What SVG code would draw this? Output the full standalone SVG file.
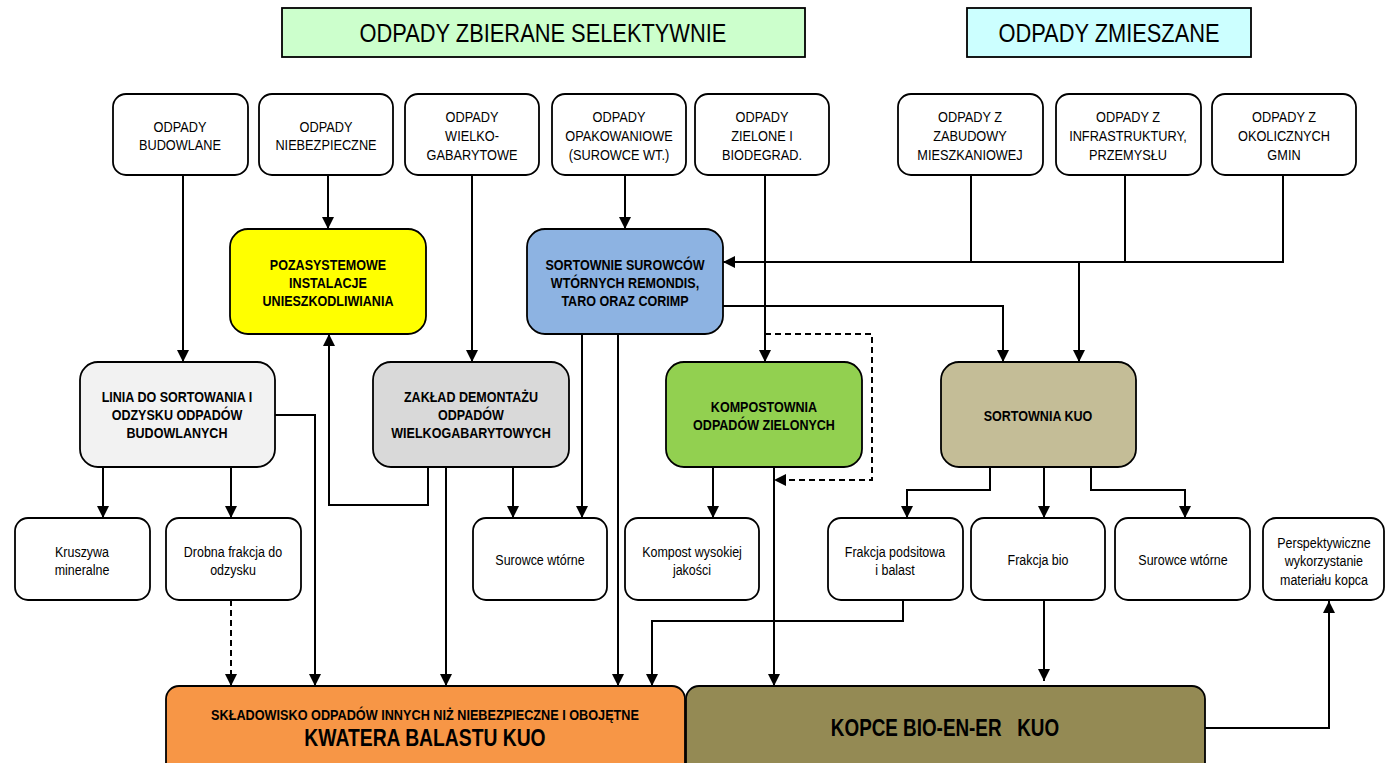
<svg xmlns="http://www.w3.org/2000/svg" width="1385" height="763" viewBox="0 0 1385 763">
<style>
text{font-family:"Liberation Sans",Arial,sans-serif;text-anchor:middle;fill:#000;transform-box:fill-box;transform-origin:center}
.n rect{stroke:#000;stroke-width:1.8}
.t{font-size:15px;transform:scaleX(0.85)}
.s{font-size:14px;transform:scaleX(0.89)}
.b{font-size:14.5px;font-weight:bold;transform:scaleX(0.865)}
.h{font-size:26px;transform:scaleX(0.84)}
.k1{font-size:14.5px;font-weight:bold;transform:scaleX(0.875)}
.k2{font-size:23px;font-weight:bold;transform:scaleX(0.84)}
.k3{font-size:23px;font-weight:bold;transform:scaleX(0.82)}
.c path{fill:none;stroke:#000;stroke-width:2}
.c .d{stroke-dasharray:6 4}
</style>
<defs>
<marker id="a" viewBox="0 0 10 10" refX="10" refY="5" markerWidth="6" markerHeight="6" markerUnits="strokeWidth" orient="auto">
<path d="M0,0L10,5L0,10z" fill="#000"/>
</marker>
</defs>
<rect width="1385" height="763" fill="#fff"/>
<g id="h1" class="n"><rect x="282" y="8" width="523" height="49" fill="#ccffcc" stroke-width="1.2"/><text class="h" x="543" y="42">ODPADY ZBIERANE SELEKTYWNIE</text></g>
<g id="h2" class="n"><rect x="967" y="8" width="284" height="49" fill="#ccffff" stroke-width="1.2"/><text class="h" x="1109" y="42">ODPADY ZMIESZANE</text></g>

<g class="c" id="connectors">
<path d="M183,175V362" marker-end="url(#a)"/>
<path d="M328,175V229" marker-end="url(#a)"/>
<path d="M472,175V362" marker-end="url(#a)"/>
<path d="M625,175V229" marker-end="url(#a)"/>
<path d="M765,175V362" marker-end="url(#a)"/>
<path d="M971,175V262"/>
<path d="M1125,175V262"/>
<path d="M1283,175V262H723" marker-end="url(#a)"/>
<path d="M1079,262V362" marker-end="url(#a)"/>
<path d="M723,306H1003V362" marker-end="url(#a)"/>
<path class="d" d="M765,334H872V480H774" marker-end="url(#a)"/>
<path d="M582,334V518" marker-end="url(#a)"/>
<path d="M618,334V686" marker-end="url(#a)"/>
<path d="M428,467V505H329V334" marker-end="url(#a)"/>
<path d="M446,467V686" marker-end="url(#a)"/>
<path d="M513,467V518" marker-end="url(#a)"/>
<path d="M275,415H315V686" marker-end="url(#a)"/>
<path d="M103,467V518" marker-end="url(#a)"/>
<path d="M231,467V518" marker-end="url(#a)"/>
<path class="d" d="M231,600V686" marker-end="url(#a)"/>
<path d="M713,467V518" marker-end="url(#a)"/>
<path d="M774,467V686" marker-end="url(#a)"/>
<path d="M990,467V490H907V518" marker-end="url(#a)"/>
<path d="M1044,467V518" marker-end="url(#a)"/>
<path d="M1091,467V490H1185V518" marker-end="url(#a)"/>
<path d="M903,600V621H652V686" marker-end="url(#a)"/>
<path d="M1044,600V681" marker-end="url(#a)"/>
<path d="M1205,728H1329V601" marker-end="url(#a)"/>
</g>

<g id="n1" class="n"><rect x="113" y="94" width="135" height="81" rx="13" fill="#fff"/><text class="t" x="180" y="132">ODPADY</text><text class="t" x="180" y="150">BUDOWLANE</text></g>
<g id="n2" class="n"><rect x="259" y="94" width="134" height="81" rx="13" fill="#fff"/><text class="t" x="326" y="132">ODPADY</text><text class="t" x="326" y="150">NIEBEZPIECZNE</text></g>
<g id="n3" class="n"><rect x="405" y="94" width="134" height="81" rx="13" fill="#fff"/><text class="t" x="472" y="122">ODPADY</text><text class="t" x="472" y="141">WIELKO-</text><text class="t" x="472" y="160">GABARYTOWE</text></g>
<g id="n4" class="n"><rect x="552" y="94" width="134" height="81" rx="13" fill="#fff"/><text class="t" x="619" y="122">ODPADY</text><text class="t" x="619" y="141">OPAKOWANIOWE</text><text class="t" x="619" y="160">(SUROWCE WT.)</text></g>
<g id="n5" class="n"><rect x="695" y="94" width="134" height="81" rx="13" fill="#fff"/><text class="t" x="762" y="122">ODPADY</text><text class="t" x="762" y="141">ZIELONE I</text><text class="t" x="762" y="160">BIODEGRAD.</text></g>
<g id="n6" class="n"><rect x="898" y="94" width="145" height="81" rx="13" fill="#fff"/><text class="t" x="970" y="122">ODPADY Z</text><text class="t" x="970" y="141">ZABUDOWY</text><text class="t" x="970" y="160">MIESZKANIOWEJ</text></g>
<g id="n7" class="n"><rect x="1056" y="94" width="145" height="81" rx="13" fill="#fff"/><text class="t" x="1128" y="122">ODPADY Z</text><text class="t" x="1128" y="141">INFRASTRUKTURY,</text><text class="t" x="1128" y="160">PRZEMYSŁU</text></g>
<g id="n8" class="n"><rect x="1212" y="94" width="144" height="81" rx="13" fill="#fff"/><text class="t" x="1284" y="122">ODPADY Z</text><text class="t" x="1284" y="141">OKOLICZNYCH</text><text class="t" x="1284" y="160">GMIN</text></g>

<g id="m1" class="n"><rect x="230" y="229" width="196" height="105" rx="18" fill="#ffff00"/><text class="b" x="328" y="270">POZASYSTEMOWE</text><text class="b" x="328" y="288">INSTALACJE</text><text class="b" x="328" y="306">UNIESZKODLIWIANIA</text></g>
<g id="m2" class="n"><rect x="527" y="229" width="196" height="105" rx="18" fill="#8db3e2"/><text class="b" x="625" y="270">SORTOWNIE SUROWCÓW</text><text class="b" x="625" y="288">WTÓRNYCH REMONDIS,</text><text class="b" x="625" y="306">TARO ORAZ CORIMP</text></g>
<g id="m3" class="n"><rect x="80" y="362" width="195" height="105" rx="18" fill="#f2f2f2"/><text class="b" x="177" y="402">LINIA DO SORTOWANIA I</text><text class="b" x="177" y="420">ODZYSKU ODPADÓW</text><text class="b" x="177" y="438">BUDOWLANYCH</text></g>
<g id="m4" class="n"><rect x="373" y="362" width="196" height="105" rx="18" fill="#d9d9d9"/><text class="b" x="471" y="402">ZAKŁAD DEMONTAŻU</text><text class="b" x="471" y="420">ODPADÓW</text><text class="b" x="471" y="438">WIELKOGABARYTOWYCH</text></g>
<g id="m5" class="n"><rect x="666" y="362" width="196" height="105" rx="18" fill="#92d050"/><text class="b" x="764" y="412">KOMPOSTOWNIA</text><text class="b" x="764" y="430">ODPADÓW ZIELONYCH</text></g>
<g id="m6" class="n"><rect x="941" y="362" width="195" height="105" rx="18" fill="#c4bd97"/><text class="b" x="1038" y="421">SORTOWNIA KUO</text></g>

<g id="s1" class="n"><rect x="15" y="518" width="135" height="82" rx="13" fill="#fff"/><text class="s" x="82" y="557">Kruszywa</text><text class="s" x="82" y="575">mineralne</text></g>
<g id="s2" class="n"><rect x="166" y="518" width="135" height="82" rx="13" fill="#fff"/><text class="s" x="233" y="557">Drobna frakcja do</text><text class="s" x="233" y="575">odzysku</text></g>
<g id="s3" class="n"><rect x="473" y="518" width="134" height="82" rx="13" fill="#fff"/><text class="s" x="540" y="565">Surowce wtórne</text></g>
<g id="s4" class="n"><rect x="625" y="518" width="134" height="82" rx="13" fill="#fff"/><text class="s" x="692" y="557">Kompost wysokiej</text><text class="s" x="692" y="575">jakości</text></g>
<g id="s5" class="n"><rect x="828" y="518" width="135" height="82" rx="13" fill="#fff"/><text class="s" x="895" y="557">Frakcja podsitowa</text><text class="s" x="895" y="575">i balast</text></g>
<g id="s6" class="n"><rect x="971" y="518" width="134" height="82" rx="13" fill="#fff"/><text class="s" x="1038" y="565">Frakcja bio</text></g>
<g id="s7" class="n"><rect x="1115" y="518" width="135" height="82" rx="13" fill="#fff"/><text class="s" x="1183" y="565">Surowce wtórne</text></g>
<g id="s8" class="n"><rect x="1263" y="518" width="121" height="82" rx="13" fill="#fff"/><text class="s" x="1324" y="548">Perspektywiczne</text><text class="s" x="1324" y="566">wykorzystanie</text><text class="s" x="1324" y="585">materiału kopca</text></g>

<g id="b1" class="n"><rect x="166" y="686" width="519" height="100" rx="13" fill="#f79646"/><text class="k1" x="425" y="720">SKŁADOWISKO ODPADÓW INNYCH NIŻ NIEBEZPIECZNE I OBOJĘTNE</text><text class="k2" x="425" y="746">KWATERA BALASTU KUO</text></g>
<g id="b2" class="n"><rect x="686" y="686" width="519" height="100" rx="13" fill="#948a54"/><text class="k3" x="945" y="736" xml:space="preserve">KOPCE BIO-EN-ER   KUO</text></g>
</svg>
